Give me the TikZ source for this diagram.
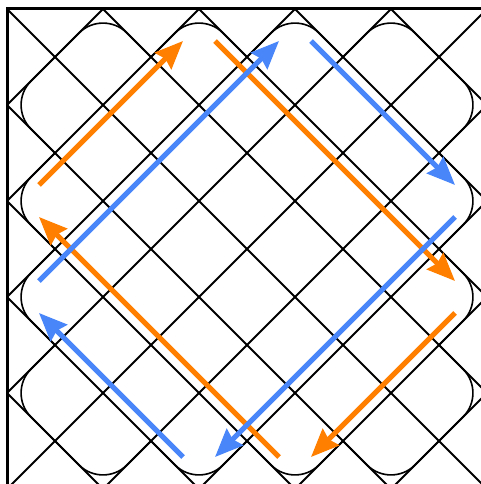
\documentclass[tikz,border=0pt]{standalone}
\usetikzlibrary{arrows.meta}
\definecolor{arrorange}{RGB}{255,127,0}
\definecolor{arrblue}{RGB}{72,134,250}
\begin{document}
\begin{tikzpicture}[x=1pt,y=-1pt,
  gridline/.style={line width=2pt, black},
  cornerarc/.style={line width=1.6pt, black, rounded corners=34pt},
  framebox/.style={line width=3pt, black},
  flow/.style={line width=5pt, -{Stealth[length=28pt,width=23pt,inset=3pt]}},
]
\useasboundingbox (-7,-9) rectangle (474,475);
\begin{scope}
  \clip (0,0) rectangle (480,480);
  \foreach \k in {1,...,9} \draw[gridline] ({96*\k},0) -- (0,{96*\k});
  \foreach \k in {-4,...,4} \draw[gridline] ({96*\k},0) -- ({96*\k+480},480);
\end{scope}
\foreach \a in {96,192,288,384} {
  \draw[cornerarc] ({\a-48},48) -- (\a,0) -- ({\a+48},48);
  \draw[cornerarc] ({\a-48},432) -- (\a,480) -- ({\a+48},432);
  \draw[cornerarc] (48,{\a-48}) -- (0,\a) -- (48,{\a+48});
  \draw[cornerarc] (432,{\a-48}) -- (480,\a) -- (432,{\a+48});
}
\draw[framebox] (0,0) rectangle (480,480);
% arrow end points
\coordinate (o1s) at (32,176);  \coordinate (o1e) at (176,32);
\coordinate (o2s) at (208,32);  \coordinate (o2e) at (448,272);
\coordinate (o3s) at (448,304); \coordinate (o3e) at (304,448);
\coordinate (o4s) at (272,448); \coordinate (o4e) at (32,208);
\coordinate (b1s) at (32,272);  \coordinate (b1e) at (272,32);
\coordinate (b2s) at (304,32);  \coordinate (b2e) at (448,176);
\coordinate (b3s) at (448,208); \coordinate (b3e) at (208,448);
\coordinate (b4s) at (176,448); \coordinate (b4e) at (32,304);
\draw[flow, arrorange] (o1s) -- (o1e);
\draw[flow, arrorange] (o2s) -- (o2e);
\draw[flow, arrorange] (o3s) -- (o3e);
\draw[flow, arrorange] (o4s) -- (o4e);
\draw[flow, arrblue] (b1s) -- (b1e);
\draw[flow, arrblue] (b2s) -- (b2e);
\draw[flow, arrblue] (b3s) -- (b3e);
\draw[flow, arrblue] (b4s) -- (b4e);
\end{tikzpicture}
\end{document}
